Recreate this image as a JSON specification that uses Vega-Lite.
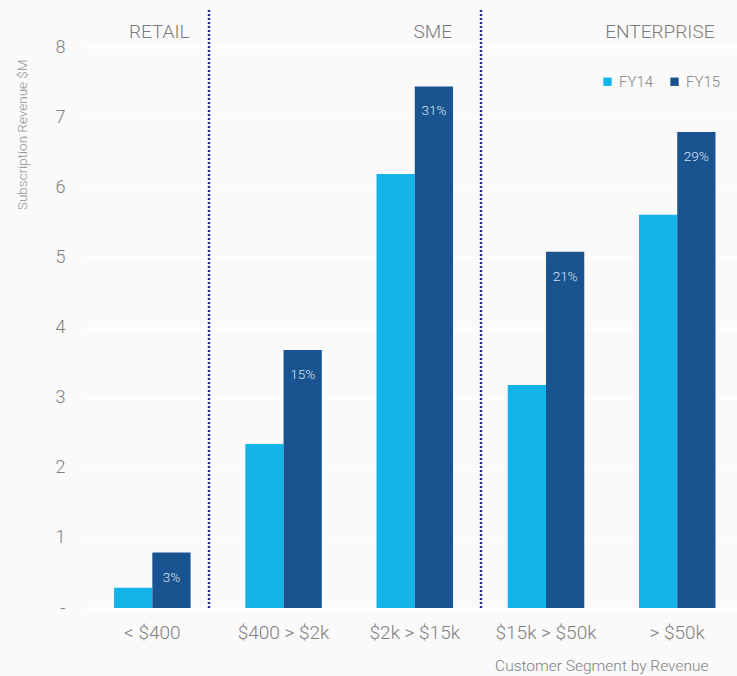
{
  "$schema": "https://vega.github.io/schema/vega-lite/v6.json",
  "width": 651,
  "height": 598,
  "autosize": "none",
  "padding": {"left": 86, "top": 10, "right": 0, "bottom": 68},
  "background": "#fafafa",
  "config": {
    "view": {"stroke": null, "fill": "#fafafa"},
    "font": "Roboto",
    "axis": {"labelFont": "Roboto", "titleFont": "Roboto", "labelFontWeight": 300, "titleFontWeight": 300},
    "legend": {"labelFont": "Roboto", "labelFontWeight": 300},
    "text": {"font": "Roboto", "fontWeight": 300}
  },
  "datasets": {
    "bars": [
      {"segment": "< $400", "year": "FY14", "revenue": 0.29, "pct": ""},
      {"segment": "< $400", "year": "FY15", "revenue": 0.79, "pct": "3%"},
      {"segment": "$400 > $2k", "year": "FY14", "revenue": 2.34, "pct": ""},
      {"segment": "$400 > $2k", "year": "FY15", "revenue": 3.68, "pct": "15%"},
      {"segment": "$2k > $15k", "year": "FY14", "revenue": 6.19, "pct": ""},
      {"segment": "$2k > $15k", "year": "FY15", "revenue": 7.44, "pct": "31%"},
      {"segment": "$15k > $50k", "year": "FY14", "revenue": 3.18, "pct": ""},
      {"segment": "$15k > $50k", "year": "FY15", "revenue": 5.08, "pct": "21%"},
      {"segment": "> $50k", "year": "FY14", "revenue": 5.61, "pct": ""},
      {"segment": "> $50k", "year": "FY15", "revenue": 6.79, "pct": "29%"}
    ],
    "groups": [
      {"segment": "< $400", "group": "RETAIL"},
      {"segment": "$2k > $15k", "group": "SME"},
      {"segment": "> $50k", "group": "ENTERPRISE"}
    ]
  },
  "layer": [
    {
      "data": {"name": "bars"},
      "mark": {"type": "bar"},
      "encoding": {
        "x": {
          "field": "segment", "type": "nominal",
          "sort": ["< $400", "$400 > $2k", "$2k > $15k", "$15k > $50k", "> $50k"],
          "scale": {"paddingInner": 0.417, "paddingOuter": 0.189, "align": 0.566},
          "axis": {
            "title": "Customer Segment by Revenue",
            "labelAngle": 0, "labelFontSize": 19, "labelColor": "#808080",
            "labelPadding": 15, "ticks": false, "domain": false,
            "titleFontSize": 15.5, "titleColor": "#808080",
            "titleX": 622, "titleY": 57, "titleAlign": "right", "titleBaseline": "middle"
          }
        },
        "xOffset": {"field": "year", "type": "nominal", "scale": {"paddingInner": 0, "paddingOuter": 0}},
        "y": {
          "field": "revenue", "type": "quantitative",
          "scale": {"domain": [0, 8.53], "nice": false},
          "axis": {
            "title": "Subscription Revenue $M",
            "values": [0, 1, 2, 3, 4, 5, 6, 7, 8],
            "format": "d",
            "labelExpr": "datum.value == 0 ? '-' : datum.label",
            "labelFontSize": 18, "labelColor": "#808080", "labelPadding": 21,
            "ticks": false, "domain": false,
            "grid": true, "gridColor": "#ffffff", "gridWidth": 1.5,
            "titleFontSize": 13.5, "titleColor": "#909090",
            "titleAnchor": "end", "titleAngle": -90, "titleAlign": "right",
            "titleX": -64, "titleY": 49, "titleBaseline": "middle"
          }
        },
        "color": {
          "field": "year", "type": "nominal",
          "scale": {"domain": ["FY14", "FY15"], "range": ["#14b4e8", "#1a5490"]},
          "legend": {
            "title": null, "orient": "none", "direction": "horizontal",
            "legendX": 514, "legendY": 64,
            "symbolType": "square", "symbolSize": 70, "symbolStrokeWidth": 0,
            "labelFontSize": 15, "labelColor": "#808080", "labelOffset": 4,
            "columnPadding": 13
          }
        }
      }
    },
    {
      "data": {"name": "bars"},
      "transform": [{"filter": "datum.pct != ''"}],
      "mark": {"type": "text", "dy": 25, "fontSize": 13.5, "color": "#dbe3ee", "baseline": "middle"},
      "encoding": {
        "x": {"field": "segment", "type": "nominal", "sort": ["< $400", "$400 > $2k", "$2k > $15k", "$15k > $50k", "> $50k"]},
        "xOffset": {"field": "year", "type": "nominal"},
        "y": {"field": "revenue", "type": "quantitative"},
        "text": {"field": "pct"}
      }
    },
    {
      "data": {"values": [{"segment": "< $400"}]},
      "mark": {"type": "rule", "color": "#2a2d8f", "strokeWidth": 2.5, "strokeDash": [2, 2]},
      "encoding": {
        "x": {"field": "segment", "type": "nominal", "bandPosition": 1.241, "sort": ["< $400", "$400 > $2k", "$2k > $15k", "$15k > $50k", "> $50k"]},
        "y": {"datum": 0},
        "y2": {"datum": 8.53}
      }
    },
    {
      "data": {"values": [{"segment": "$2k > $15k"}]},
      "mark": {"type": "rule", "color": "#2a2d8f", "strokeWidth": 2.5, "strokeDash": [2, 2]},
      "encoding": {
        "x": {"field": "segment", "type": "nominal", "bandPosition": 1.366, "sort": ["< $400", "$400 > $2k", "$2k > $15k", "$15k > $50k", "> $50k"]},
        "y": {"datum": 0},
        "y2": {"datum": 8.53}
      }
    },
    {
      "data": {"name": "groups"},
      "mark": {"type": "text", "align": "right", "baseline": "middle", "fontSize": 19, "color": "#7a7a7a", "dx": -1},
      "encoding": {
        "x": {"field": "segment", "type": "nominal", "bandPosition": 1, "sort": ["< $400", "$400 > $2k", "$2k > $15k", "$15k > $50k", "> $50k"]},
        "y": {"datum": 8.22},
        "text": {"field": "group"}
      }
    }
  ]
}
